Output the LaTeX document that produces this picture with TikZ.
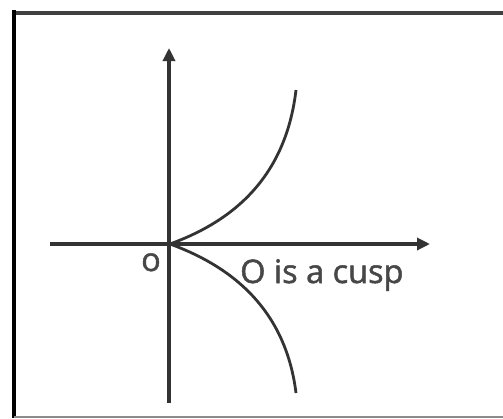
\documentclass[tikz,border=0pt]{standalone}
\usepackage{fontspec}
\setmainfont{Open Sans}
\newfontfamily\lblfont[FakeBold=1.5]{Open Sans}
\usetikzlibrary{arrows.meta}
\begin{document}
\begin{tikzpicture}[x=1pt,y=-1pt,
  axis/.style={line width=3.2pt,draw=black!80,-{Triangle[length=13pt,width=12pt]}},
  curve/.style={line width=2.8pt,draw=black!80},
  lbl/.style={font=\lblfont\fontsize{32.5}{35}\selectfont,text=black!72,inner sep=0pt}]
\useasboundingbox (0,0) rectangle (503,418);
\fill[white] (0,0) rectangle (503,418);
% frame
\draw[line width=4pt,black!75] (12,13) -- (503,13);
\draw[line width=4.5pt,black] (14,10) -- (14,418);
\draw[line width=2pt,black!45] (14,416.5) -- (503,416.5);
% axes
\coordinate (O) at (170,244);
\coordinate (xl) at (50,244);
\coordinate (xr) at (430,244);
\coordinate (yb) at (169,403);
\coordinate (yt) at (169,48);
\draw[axis] (xl) -- (xr);
\draw[axis] (yb) -- (yt);
% cusp branches
\coordinate (up) at (296,90);
\coordinate (dn) at (296,393);
\draw[curve] (O) .. controls (225,224) and (285,184) .. (up);
\draw[curve] (O) .. controls (225,264) and (285,304) .. (dn);
% labels
\node[lbl,anchor=base] (o) at (151,271) {o};
\node[lbl,anchor=base west] (cusp) at (240,283) {O is a cusp};
\end{tikzpicture}
\end{document}
